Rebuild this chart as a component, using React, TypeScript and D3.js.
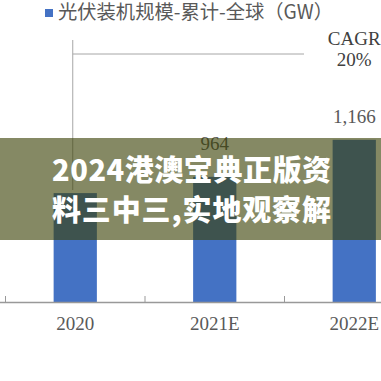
import React from "react";
import * as d3 from "d3";

const categories = ["2020", "2021E", "2022E"];
const values = [875, 964, 1166];
const valueLabels = ["", "964", "1,166"];
const titleText = "光伏装机规模-累计-全球（GW）";
const cagrLines = ["CAGR", "20%"];
const bannerLines = ["2024港澳宝典正版资", "料三中三,实地观察解"];

const W = 381;
const H = 381;

export default function App() {
  const x = d3.scaleBand<string>().domain(categories).range([5.5, 424]).paddingInner(0.69).paddingOuter(0.345);
  const y = d3.scaleLinear().domain([280, 1400]).range([302, 97]);
  const labelY = d3.scaleLinear().domain([280, 1400]).range([241.4, 91.7]);
  const step = x.step();
  const tickXs = categories.map((c) => (x(c) as number) - step * 0.345);
  const serif = "'Liberation Serif', 'Times New Roman', serif";
  const cjk = "'Noto Sans CJK SC', sans-serif";
  const lastC = categories[categories.length - 1];
  const firstC = categories[0];
  const cagrX = (x(lastC) as number) + x.bandwidth() / 2;
  const lineX = (x(firstC) as number) + x.bandwidth() / 2 - 2.5;

  return (
    <div style={{ position: "fixed", left: 0, top: 0, width: W, height: H, background: "#fff" }}>
      <svg width={W} height={H} style={{ display: "block" }}>
        <rect width={W} height={H} fill="#fff" />
        <rect x={45} y={9} width={8} height={8} fill="#4472C4" />
        <text x={58} y={19} fontFamily={cjk} fontSize={19.5} fill="#595959" textLength={275} lengthAdjust="spacingAndGlyphs">
          {titleText}
        </text>
        <line x1={lineX} x2={lineX} y1={40} y2={190} stroke="#a6a6a6" strokeWidth={1} />
        <line x1={lineX} x2={304} y1={54} y2={54} stroke="#a6a6a6" strokeWidth={1} />
        <text x={cagrX} y={45} textAnchor="middle" fontFamily={serif} fontSize={19} fill="#404040">
          {cagrLines[0]}
        </text>
        <text x={cagrX} y={66} textAnchor="middle" fontFamily={serif} fontSize={19} fill="#404040">
          {cagrLines[1]}
        </text>
        {categories.map((c, i) => (
          <rect key={c} x={x(c)} y={y(values[i])} width={x.bandwidth()} height={y(280) - y(values[i])} fill="#4472C4" />
        ))}
        {categories.map((c, i) =>
          valueLabels[i] ? (
            <text key={"l" + c} x={(x(c) as number) + x.bandwidth() / 2} y={labelY(values[i])} textAnchor="middle" fontFamily={serif} fontSize={19} fill="#595959">
              {valueLabels[i]}
            </text>
          ) : null
        )}
        <line x1={0} x2={W} y1={302.5} y2={302.5} stroke="#999999" strokeWidth={1.5} />
        {tickXs.map((tx, i) => (
          <line key={"t" + i} x1={tx} x2={tx} y1={296} y2={302} stroke="#999999" strokeWidth={1} />
        ))}
        {categories.map((c) => (
          <text key={"c" + c} x={(x(c) as number) + x.bandwidth() / 2} y={330} textAnchor="middle" fontFamily={serif} fontSize={19} fill="#595959">
            {c}
          </text>
        ))}
        <rect x={0} y={138} width={W} height={102} fill="rgb(58,64,5)" fillOpacity={0.62} />
        {bannerLines.map((t, i) => (
          <text key={"b" + i} x={52} y={181 + i * 40} fontFamily={cjk} fontWeight={900} fontSize={29} fill="#fff" textLength={279} lengthAdjust="spacing">
            {t}
          </text>
        ))}
      </svg>
    </div>
  );
}
